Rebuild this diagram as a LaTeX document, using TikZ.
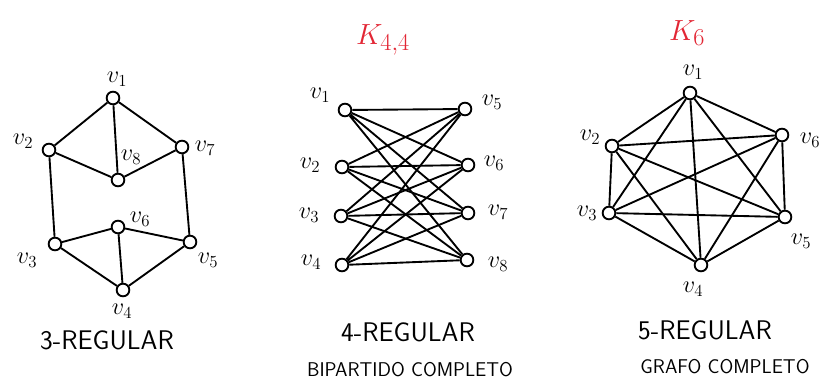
\documentclass[tikz,border=0pt]{standalone}
\usepackage{amsmath}
\usepackage{amssymb}
\usepackage{tikz}
\usepackage{xcolor}
\definecolor{kred}{RGB}{226,38,52}

\begin{document}
\begin{tikzpicture}[x=0.03cm,y=-0.03cm,line width=1.6pt,
  vtx/.style={circle,draw,line width=1.6pt,inner sep=0pt,minimum size=0.38cm},
  lbl/.style={font=\huge},
  regcap/.style={font=\sffamily\fontsize{23}{26}\selectfont},
  subcap/.style={font=\sffamily\fontsize{17}{20}\selectfont},
  kname/.style={text=kred,font=\Huge}]
\useasboundingbox (0,0) rectangle (836,385);
% 3-regular
\node[vtx] (a1) at (113,98) {};
\node[vtx] (a2) at (49,150) {};
\node[vtx] (a8) at (118,180) {};
\node[vtx] (a7) at (182,147) {};
\node[vtx] (a6) at (118,227) {};
\node[vtx] (a3) at (55,244) {};
\node[vtx] (a5) at (190,242) {};
\node[vtx] (a4) at (123,290) {};
\draw (a1)--(a2) (a1)--(a8) (a1)--(a7) (a2)--(a8) (a8)--(a7) (a2)--(a3);
\draw (a7)--(a5) (a3)--(a6) (a6)--(a5) (a6)--(a4) (a3)--(a4) (a4)--(a5);
\node[lbl] (la1) at (117,79) {$v_1$};
\node[lbl] (la2) at (23,141) {$v_2$};
\node[lbl] (la8) at (131,157) {$v_8$};
\node[lbl] (la7) at (205,148) {$v_7$};
\node[lbl] (la6) at (140,219) {$v_6$};
\node[lbl] (la3) at (27,260) {$v_3$};
\node[lbl] (la5) at (208,260) {$v_5$};
\node[lbl] (la4) at (122,311) {$v_4$};
\node[regcap] (ca) at (107,340) {3-REGULAR};
% bipartido K_{4,4}
\node[kname] (kb) at (383,40) {$K_{4,4}$};
\node[vtx] (b1) at (345,110) {};
\node[vtx] (b2) at (342,167) {};
\node[vtx] (b3) at (341,216) {};
\node[vtx] (b4) at (342,265) {};
\node[vtx] (b5) at (465,109) {};
\node[vtx] (b6) at (468,165) {};
\node[vtx] (b7) at (468,213) {};
\node[vtx] (b8) at (467,260) {};
\draw (b1)--(b5) (b1)--(b6) (b1)--(b7) (b1)--(b8);
\draw (b2)--(b5) (b2)--(b6) (b2)--(b7) (b2)--(b8);
\draw (b3)--(b5) (b3)--(b6) (b3)--(b7) (b3)--(b8);
\draw (b4)--(b5) (b4)--(b6) (b4)--(b7) (b4)--(b8);
\node[lbl] (lb1) at (320,95) {$v_1$};
\node[lbl] (lb2) at (310,165) {$v_2$};
\node[lbl] (lb3) at (309,215) {$v_3$};
\node[lbl] (lb4) at (311,262) {$v_4$};
\node[lbl] (lb5) at (492,102) {$v_5$};
\node[lbl] (lb6) at (494,163) {$v_6$};
\node[lbl] (lb7) at (498,212) {$v_7$};
\node[lbl] (lb8) at (498,264) {$v_8$};
\node[regcap] (cb) at (408,332) {4-REGULAR};
\node[subcap] (sb) at (410,370) {BIPARTIDO COMPLETO};
% completo K_6
\node[kname] (kc) at (687,33) {$K_6$};
\node[vtx] (c1) at (690,93) {};
\node[vtx] (c2) at (612,146) {};
\node[vtx] (c3) at (609,213) {};
\node[vtx] (c4) at (701,265) {};
\node[vtx] (c5) at (785,217) {};
\node[vtx] (c6) at (782,135) {};
\draw (c1)--(c2) (c1)--(c3) (c1)--(c4) (c1)--(c5) (c1)--(c6);
\draw (c2)--(c3) (c2)--(c4) (c2)--(c5) (c2)--(c6);
\draw (c3)--(c4) (c3)--(c5) (c3)--(c6);
\draw (c4)--(c5) (c4)--(c6) (c5)--(c6);
\node[lbl] (lc1) at (693,72) {$v_1$};
\node[lbl] (lc2) at (590,137) {$v_2$};
\node[lbl] (lc3) at (587,213) {$v_3$};
\node[lbl] (lc4) at (693,289) {$v_4$};
\node[lbl] (lc5) at (801,241) {$v_5$};
\node[lbl] (lc6) at (810,140) {$v_6$};
\node[regcap] (cc) at (705,330) {5-REGULAR};
\node[subcap] (sc) at (725,367) {GRAFO COMPLETO};
\end{tikzpicture}
\end{document}
